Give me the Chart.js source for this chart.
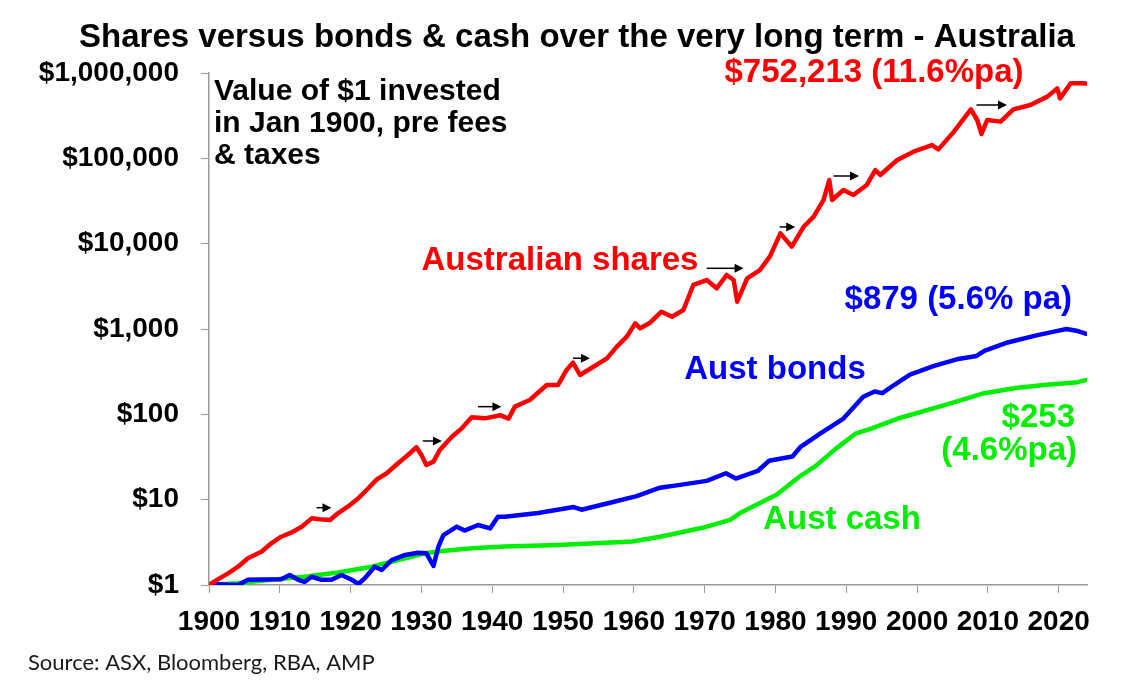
<!DOCTYPE html>
<html>
<head>
<meta charset="utf-8">
<title>Shares versus bonds & cash over the very long term - Australia</title>
<script src="https://cdn.jsdelivr.net/npm/chart.js@4.4.1/dist/chart.umd.min.js"></script>
<style>
  html, body { margin: 0; padding: 0; background: #fff; }
  #wrap { width: 1132px; height: 694px; }
</style>
</head>
<body>
<div id="wrap"><canvas id="chart" width="1132" height="694"></canvas></div>
<script>
// ---------------------------------------------------------
// Dados (valor de $1 investido em jan/1900)
// ---------------------------------------------------------
const shareYears = [1900, 1901.3, 1902.7, 1904.1, 1905.5, 1907.4, 1908.8, 1910.2, 1911.6, 1913.1,
  1914.5, 1915.6, 1917.1, 1918.2, 1919.6, 1921.1, 1922.5, 1923.7, 1925.1, 1926.7,
  1928.1, 1929.3, 1930.0, 1930.7, 1931.7, 1932.6, 1934.3, 1935.7, 1937.1, 1939.0,
  1941.1, 1942.3, 1943.2, 1945.3, 1947.7, 1949.3, 1950.5, 1951.4, 1952.4, 1954.3,
  1956.2, 1957.6, 1959.0, 1960.2, 1960.9, 1962.3, 1963.9, 1965.4, 1967.0, 1968.4,
  1970.3, 1971.7, 1973.1, 1974.1, 1974.6, 1976.0, 1977.8, 1979.2, 1980.7, 1982.3,
  1984.0, 1985.4, 1986.8, 1987.6, 1988.0, 1989.6, 1991.0, 1992.9, 1994.1, 1994.8,
  1997.2, 1999.5, 2002.1, 2003.0, 2005.2, 2007.6, 2008.5, 2009.1, 2009.9, 2011.8,
  2013.6, 2016.0, 2018.4, 2019.8, 2020.2, 2021.7, 2023.1, 2023.9];
const shareValues = [1.0, 1.17, 1.37, 1.64, 2.06, 2.45, 3.08, 3.68, 4.1, 4.82,
  6.04, 5.89, 5.78, 6.92, 8.28, 10.4, 13.6, 17.3, 20.4, 26.7,
  33.4, 41.1, 33.4, 25.5, 27.9, 38.2, 54.7, 68.5, 92.3, 89.7,
  97.7, 89.1, 123, 147, 221, 221, 331, 403, 289, 361,
  453, 621, 813, 1164, 1019, 1186, 1596, 1393, 1671, 3281,
  3750, 3000, 4295, 3750, 2089, 3926, 4898, 7047, 13213, 9226,
  15812, 20701, 32509, 55719, 32509, 42560, 37154, 48753, 72946, 63826,
  95499, 119674, 143219, 127350, 205116, 374973, 281190, 192752, 281190, 269153,
  374973, 421697, 528445, 660693, 504661, 756833, 756833, 752213];

const bondYears = [1900, 1901.3, 1904.1, 1905.5, 1907.4, 1910.2, 1911.4, 1912.6, 1913.5, 1914.5,
  1915.9, 1917.3, 1918.7, 1920.1, 1921.1, 1922.0, 1923.4, 1924.4, 1925.8, 1927.7,
  1929.5, 1930.7, 1931.7, 1932.4, 1933.1, 1935.0, 1936.1, 1938.0, 1939.7, 1940.8,
  1941.8, 1946.5, 1951.5, 1952.6, 1956.5, 1960.4, 1963.7, 1967.0, 1970.3, 1973.0,
  1974.4, 1977.5, 1979.1, 1982.4, 1983.5, 1986.3, 1989.6, 1992.4, 1994.0, 1995.1,
  1996.8, 1999.0, 2002.3, 2005.6, 2008.4, 2009.5, 2012.8, 2016.7, 2020.0, 2021.1,
  2022.5, 2023.9];
const bondValues = [1.0, 1.02, 1.0, 1.15, 1.16, 1.17, 1.31, 1.15, 1.09, 1.25,
  1.15, 1.15, 1.31, 1.16, 1.03, 1.2, 1.64, 1.5, 1.96, 2.25,
  2.39, 2.35, 1.67, 2.81, 3.85, 4.83, 4.34, 5.05, 4.6, 6.3,
  6.3, 6.97, 8.2, 7.62, 9.14, 11.0, 13.8, 15.1, 16.6, 20.4,
  17.7, 21.7, 28.6, 32.1, 41.2, 59.3, 89.3, 161, 185, 177,
  222, 292, 367, 441, 483, 555, 695, 836, 957, 1000,
  955, 879];

const cashYears = [1900, 1904.1, 1908.8, 1913.5, 1918.2, 1923.0, 1927.7, 1930.5, 1933.3, 1937.1,
  1941.8, 1949.3, 1959.8, 1963.7, 1969.7, 1973.6, 1975.0, 1980.2, 1983.5, 1985.7,
  1988.5, 1991.3, 1993.5, 1997.3, 2004.0, 2009.5, 2013.9, 2018.3, 2022.7, 2023.9];
const cashValues = [1.0, 1.05, 1.15, 1.25, 1.40, 1.64, 2.06, 2.35, 2.52, 2.69,
  2.82, 2.95, 3.24, 3.67, 4.68, 5.79, 6.97, 11.5, 18.9, 24.9,
  39.4, 59.3, 68.1, 89.3, 129, 177, 203, 222, 238, 253];

// Setas pretas (períodos até recuperar o pico anterior)
const arrowStartYears = [1915.2, 1930.2, 1938.0, 1951.4, 1970.3, 1980.6, 1988.2, 2008.4];
const arrowEndYears   = [1917.3, 1932.9, 1941.3, 1953.8, 1975.5, 1982.8, 1991.8, 2012.7];
const arrowValues     = [8.05, 48.7, 123, 454, 5145, 15700, 62100, 421700];

// Eixos
const yearTicks  = [1900, 1910, 1920, 1930, 1940, 1950, 1960, 1970, 1980, 1990, 2000, 2010, 2020];
const valueTicks = [1, 10, 100, 1000, 10000, 100000, 1000000];

const RED = '#ff0000', BLUE = '#0000ff', GREEN = '#00ee00';
const FONT = '"Liberation Sans", Arial, sans-serif';

function toPoints(xs, ys) {
  return xs.map((x, i) => ({ x: x, y: ys[i] }));
}

// ---------------------------------------------------------
// Plugin: setas + textos
// ---------------------------------------------------------
const arrowsPlugin = {
  id: 'arrows',
  afterDatasetsDraw(chart) {
    const ctx = chart.ctx;
    const xs = chart.scales.x, ys = chart.scales.y;
    ctx.save();
    ctx.strokeStyle = '#000';
    ctx.fillStyle = '#000';
    ctx.lineWidth = 1.5;
    arrowStartYears.forEach((start, i) => {
      const x1 = xs.getPixelForValue(start);
      const x2 = xs.getPixelForValue(arrowEndYears[i]);
      const y = ys.getPixelForValue(arrowValues[i]);
      ctx.beginPath();
      ctx.moveTo(x1, y);
      ctx.lineTo(x2 - 7, y);
      ctx.stroke();
      ctx.beginPath();
      ctx.moveTo(x2, y);
      ctx.lineTo(x2 - 9, y - 4.5);
      ctx.lineTo(x2 - 9, y + 4.5);
      ctx.closePath();
      ctx.fill();
    });
    ctx.restore();
  }
};

const labelsPlugin = {
  id: 'labels',
  afterDraw(chart) {
    const ctx = chart.ctx;
    ctx.save();
    ctx.textBaseline = 'middle';

    function txt(s, x, y, color, size, align, family) {
      ctx.font = (family ? '' : 'bold ') + size + 'px ' + (family || FONT);
      ctx.fillStyle = color;
      ctx.textAlign = align;
      ctx.fillText(s, x, y);
    }

    txt('Shares versus bonds & cash over the very long term - Australia', 577, 38, '#000', 33, 'center');
    txt('Value of $1 invested', 214, 92, '#000', 30, 'left');
    txt('in Jan 1900, pre fees', 214, 124, '#000', 30, 'left');
    txt('& taxes', 214, 156, '#000', 30, 'left');

    txt('$752,213 (11.6%pa)', 874, 73, RED, 33, 'center');
    txt('Australian shares', 560, 261, RED, 33, 'center');
    txt('$879 (5.6% pa)', 1072, 300, BLUE, 33, 'right');
    txt('Aust bonds', 775, 370, BLUE, 33, 'center');
    txt('$253', 1075, 418, GREEN, 33, 'right');
    txt('(4.6%pa)', 1077, 451, GREEN, 33, 'right');
    txt('Aust cash', 842, 520, GREEN, 33, 'center');

    txt('Source: ASX, Bloomberg, RBA, AMP', 28, 663, '#1a1a1a', 22, 'left', 'Lato, "Open Sans", sans-serif');
    ctx.restore();
  }
};

// ---------------------------------------------------------
// Gráfico
// ---------------------------------------------------------
const ctx = document.getElementById('chart');

new Chart(ctx, {
  type: 'line',
  data: {
    datasets: [
      { label: 'Australian shares', data: toPoints(shareYears, shareValues), borderColor: RED, borderWidth: 4.5 },
      { label: 'Aust bonds', data: toPoints(bondYears, bondValues), borderColor: BLUE, borderWidth: 4.5 },
      { label: 'Aust cash', data: toPoints(cashYears, cashValues), borderColor: GREEN, borderWidth: 4.5 }
    ]
  },
  options: {
    responsive: false,
    animation: false,
    devicePixelRatio: 1,
    layout: { padding: { left: 0, right: 45, top: 73, bottom: 49 } },
    elements: {
      point: { radius: 0 },
      line: { tension: 0, borderJoinStyle: 'round', borderCapStyle: 'round' }
    },
    plugins: {
      legend: { display: false },
      tooltip: { enabled: false }
    },
    scales: {
      x: {
        type: 'linear',
        min: 1900,
        max: 2024,
        grid: { drawOnChartArea: false, drawTicks: true, tickLength: 8, color: '#999' },
        border: { color: '#999', width: 1.5 },
        afterBuildTicks: s => { s.ticks = yearTicks.map(v => ({ value: v })); },
        afterFit: s => { s.height = 60; },
        ticks: {
          color: '#000',
          font: { family: FONT, size: 28, weight: 'bold' },
          padding: 12,
          maxRotation: 0,
          autoSkip: false,
          callback: v => String(v)
        }
      },
      y: {
        type: 'logarithmic',
        min: 1,
        max: 1000000,
        grid: { drawOnChartArea: false, drawTicks: true, tickLength: 8, color: '#999' },
        border: { color: '#999', width: 1.5 },
        afterBuildTicks: s => { s.ticks = valueTicks.map(v => ({ value: v })); },
        afterFit: s => { s.width = 209; },
        ticks: {
          color: '#000',
          font: { family: FONT, size: 28, weight: 'bold' },
          padding: 22,
          autoSkip: false,
          callback: v => '$' + Number(v).toLocaleString('en-US')
        }
      }
    }
  },
  plugins: [arrowsPlugin, labelsPlugin]
});
</script>
</body>
</html>
